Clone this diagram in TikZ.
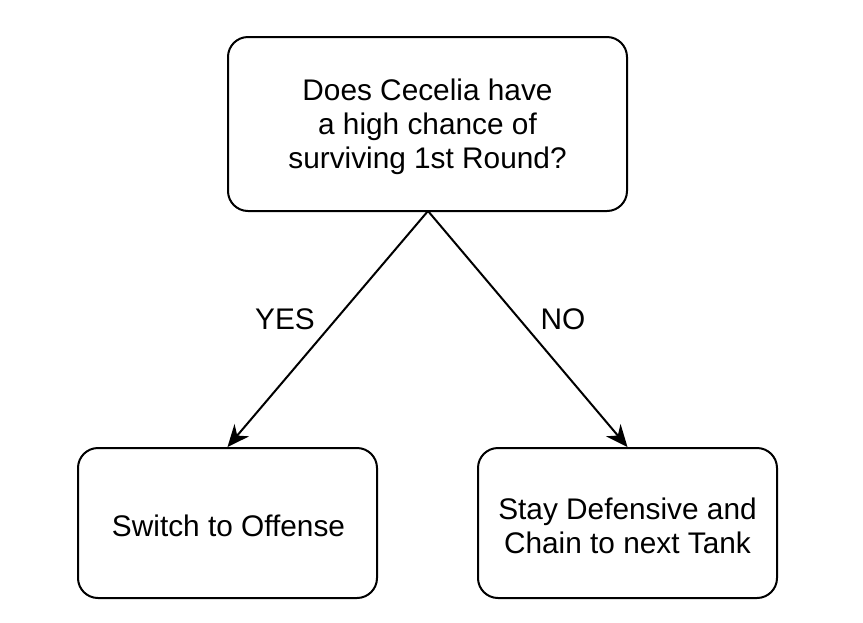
\documentclass[tikz,border=0pt]{standalone}
\usepackage{fontspec}
\setmainfont{Liberation Sans}
\usetikzlibrary{arrows.meta}
\begin{document}
\begin{tikzpicture}[x=1pt,y=-1pt,
  box/.style={draw, line width=2pt, rounded corners=20pt, inner sep=0pt},
  txt/.style={align=center, inner sep=0pt, font=\fontsize{29.8pt}{34pt}\selectfont},
  conn/.style={line width=2pt, -{Stealth[length=22pt,width=19pt,inset=7pt]}},
  lbl/.style={font=\fontsize{29.8pt}{34pt}\selectfont, inner sep=0pt}]
\useasboundingbox (0,0) rectangle (863,622);
\node[box, minimum width=399pt, minimum height=174pt] (q) at (427.5,124) {};
\node[txt] (qt) at (427.5,127) {Does Cecelia have\\a high chance of\\surviving 1st Round?};
\node[box, minimum width=299pt, minimum height=150pt] (l) at (227.5,523) {};
\node[txt] (lt) at (228.5,526) {Switch to Offense};
\node[box, minimum width=299pt, minimum height=150pt] (r) at (627.5,523) {};
\node[txt] (rt) at (627.5,526) {Stay Defensive and\\Chain to next Tank};
\coordinate (qs) at (428,211);
\draw[conn] (qs) -- (l.north);
\draw[conn] (qs) -- (r.north);
\node[lbl] (yes) at (285,319) {YES};
\node[lbl] (no) at (563,319) {NO};
\end{tikzpicture}
\end{document}
